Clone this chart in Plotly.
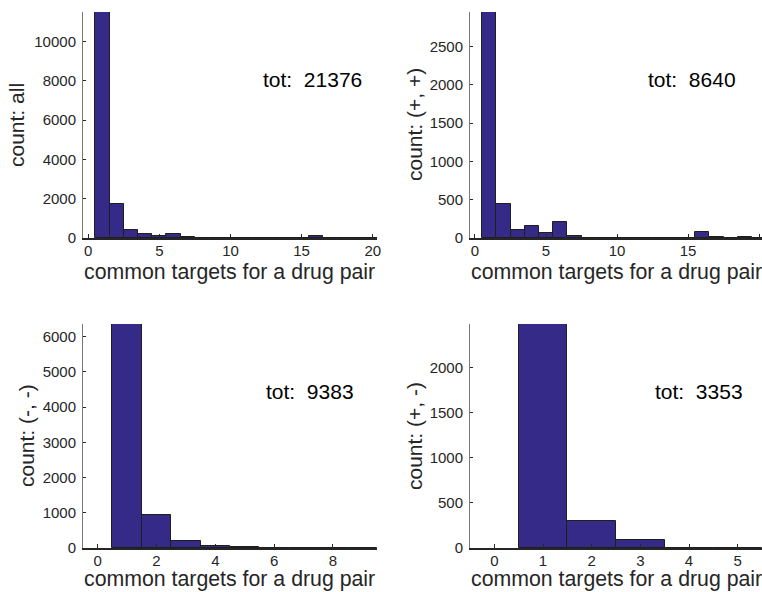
import plotly.graph_objects as go

# ---- data ----
bins_all = list(range(1, 21))
counts_all = [11500, 1720, 420, 220, 110, 220, 50, 8, 5, 5, 5, 5, 5, 5, 6, 80, 20, 6, 12, 6]

bins_pp = list(range(1, 21))
counts_pp = [2950, 450, 110, 157, 70, 210, 30, 4, 3, 3, 3, 3, 3, 3, 5, 75, 15, 4, 15, 5]

bins_mm = list(range(1, 10))
counts_mm = [6360, 940, 200, 50, 40, 5, 3, 3, 3]

bins_pm = list(range(1, 6))
counts_pm = [2480, 300, 85, 3, 2]

ylabels = ["count: all", "count: (+, +)", "count: (-, -)", "count: (+, -)"]
totals = ["21376", "8640", "9383", "3353"]
xlabel = "common targets for a drug pair"

W, H = 762, 592
FONT = "Liberation Sans, Arial, Helvetica, sans-serif"
BAR = "#352a87"
EDGE = "#1e1e1e"
AX = "#262626"

def px(x):
    return x / W

def py(y):
    return 1 - y / H

# panel geometry (pixels): left, right, top, bottom
panels = [
    dict(l=83, r=377, t=12, b=238, xr=[-0.37, 20.3], dtick_x=5, dtick_y=2000, bins=bins_all, cnt=counts_all),
    dict(l=470, r=762, t=12, b=238, xr=[-0.35, 20.2], dtick_x=5, dtick_y=500, bins=bins_pp, cnt=counts_pp),
    dict(l=83, r=377, t=324, b=548, xr=[-0.5, 9.5], dtick_x=2, dtick_y=1000, bins=bins_mm, cnt=counts_mm),
    dict(l=470, r=762, t=324, b=548, xr=[-0.5, 5.5], dtick_x=1, dtick_y=500, bins=bins_pm, cnt=counts_pm),
]
ytitle_x = [16, 414, 26, 414]
xtitle_pos = [(229, 272), (616, 272), (229, 579), (616, 579)]
tot_pos = [(312, 80), (692, 80), (310, 391), (699, 391)]

fig = go.Figure()
layout = dict(
    width=W, height=H,
    margin=dict(l=0, r=0, t=0, b=0),
    paper_bgcolor="white", plot_bgcolor="white",
    showlegend=False, bargap=0,
    font=dict(family=FONT, color=AX),
)
annotations = []
for i, p in enumerate(panels):
    n = "" if i == 0 else str(i + 1)
    fig.add_trace(go.Bar(
        x=p["bins"], y=p["cnt"], width=1,
        marker=dict(color=BAR, line=dict(color=EDGE, width=1)),
        xaxis="x" + n, yaxis="y" + n, hoverinfo="x+y",
    ))
    ymax = max(p["cnt"])
    layout["xaxis" + n] = dict(
        domain=[px(p["l"]), px(p["r"])], anchor="y" + n,
        range=p["xr"], dtick=p["dtick_x"], tick0=0,
        showgrid=False, zeroline=False,
        showline=True, linecolor=AX, linewidth=1.5,
        ticks="inside", ticklen=4, tickcolor=AX, tickwidth=1,
        tickfont=dict(size=15, color=AX, family=FONT),
        ticklabelstandoff=-2,
        automargin=False,
    )
    layout["yaxis" + n] = dict(
        domain=[py(p["b"]), py(p["t"])], anchor="x" + n,
        range=[0, ymax], dtick=p["dtick_y"], tick0=0, tickformat="d",
        showgrid=False, zeroline=False,
        showline=True, linecolor="#777777", linewidth=1,
        ticks="inside", ticklen=3, tickcolor=AX, tickwidth=1,
        tickfont=dict(size=15, color=AX, family=FONT),
        ticklabelstandoff=3,
        automargin=False,
    )
    annotations.append(dict(
        text=xlabel, xref="paper", yref="paper",
        x=px(xtitle_pos[i][0]), y=py(xtitle_pos[i][1]),
        xanchor="center", yanchor="middle", showarrow=False,
        font=dict(size=21.3, color=AX, family=FONT),
    ))
    annotations.append(dict(
        text=ylabels[i], xref="paper", yref="paper",
        x=px(ytitle_x[i]), y=py((p["t"] + p["b"]) / 2),
        xanchor="center", yanchor="middle", showarrow=False, textangle=-90,
        font=dict(size=21, color=AX, family=FONT),
    ))
    annotations.append(dict(
        text="tot:\u00a0 " + totals[i], xref="paper", yref="paper",
        x=px(tot_pos[i][0]), y=py(tot_pos[i][1]),
        xanchor="center", yanchor="middle", showarrow=False,
        font=dict(size=21, color="#000000", family=FONT),
    ))

layout["annotations"] = annotations
fig.update_layout(**layout)
fig.write_html(
    "out.html",
    config={"displayModeBar": False},
    post_script="document.body.style.margin='0';document.body.style.overflow='hidden';",
)
